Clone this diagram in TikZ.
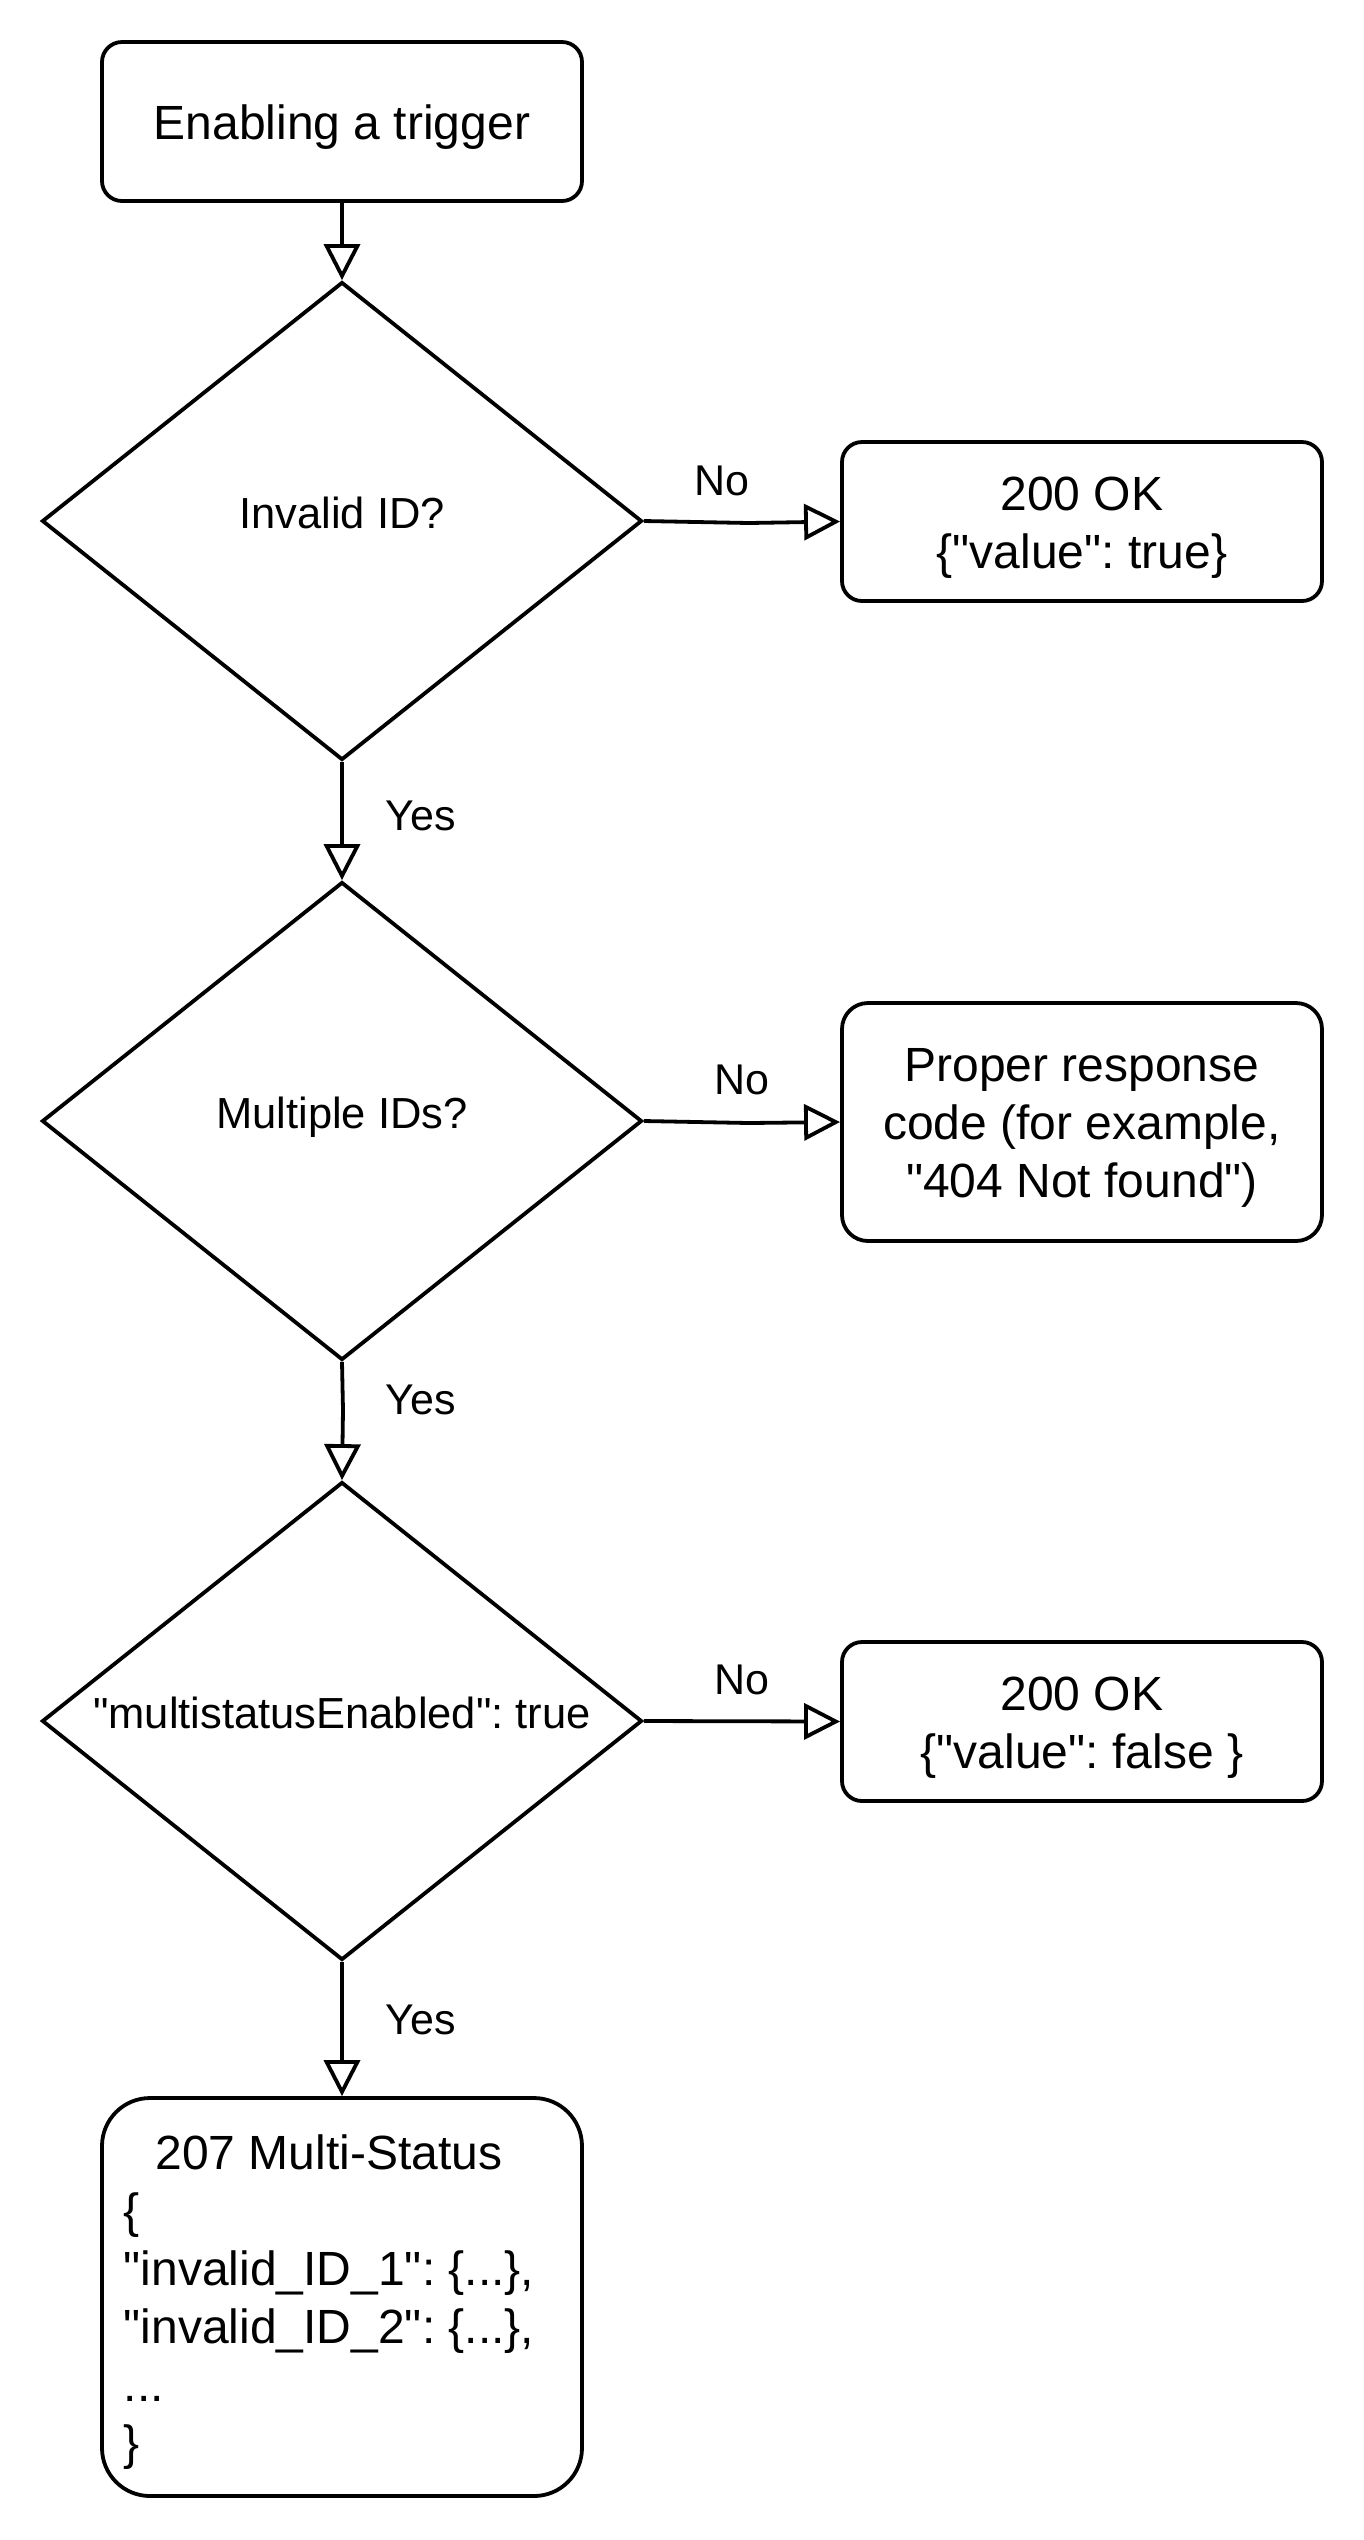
\documentclass[tikz,border=0pt]{standalone}
\usepackage{fontspec}
\setmainfont{Liberation Sans}[Ligatures=TeXOff]
\usetikzlibrary{shapes.geometric, arrows.meta}
\newlength\jsonw
\newcommand\upstrut{\rule{0pt}{22.5pt}}
\frenchspacing
\begin{document}
\begin{tikzpicture}[x=0.5pt, y=-0.5pt,
  box/.style={draw, line width=1.9pt, rounded corners=10pt, minimum width=240pt, minimum height=79.5pt, align=center, font=\fontsize{24}{29}\selectfont, inner sep=0pt},
  dec/.style={draw, diamond, line width=1.9pt, minimum width=300pt, minimum height=239pt, inner sep=0pt},
  dlabel/.style={font=\fontsize{21.75}{26}\selectfont, anchor=base, inner sep=0pt},
  elabel/.style={font=\fontsize{21.5}{26}\selectfont, inner sep=0pt},
  arr/.style={line width=1.9pt, -{Triangle[open, length=18pt, width=18pt]}},
]
\useasboundingbox (0,0) rectangle (1364,2540);
% nodes
\node[box] (start) at (342,121.5) {\upstrut Enabling a trigger};
\node[dec] (d1) at (342,521) {};
\node[dlabel, yshift=-3.5pt] (t1) at (d1.center) {Invalid ID?};
\node[box] (ok1) at (1082,521.5) {\upstrut 200 OK\\\{"value": true\}};
\node[dec] (d2) at (342,1121) {};
\node[dlabel, yshift=-3.5pt] (t2) at (d2.center) {Multiple IDs?};
\node[box, minimum height=119pt, rounded corners=13pt] (proper) at (1082,1122) {\upstrut Proper response\\code (for example,\\"404 Not found")};
\node[dec] (d3) at (342,1721) {};
\node[dlabel, yshift=-3.5pt] (t3) at (d3.center) {"multistatusEnabled": true};
\node[box] (ok2) at (1082,1721.5) {\upstrut 200 OK\\\{"value": false \}};
\node[box, minimum height=199pt, rounded corners=24pt] (multi) at (342,2297) {};
\node[font=\fontsize{24}{29}\selectfont, align=left, inner sep=0pt] (json) at (329,2302)
  {\settowidth\jsonw{"invalid\_ID\_1": \{...\},}\makebox[\jsonw][c]{207 Multi-Status}\\\{\\"invalid\_ID\_1": \{...\},\\"invalid\_ID\_2": \{...\},\\...\\\}};
% connectors
\draw[arr] (start.south) -- (d1.north);
\draw[arr] (d1.east) -- ++(105,2) -- (ok1.west);
\draw[arr] (d1.south) -- (d2.north);
\draw[arr] (d2.east) -- ++(105,2) -- (proper.west);
\draw[arr] (d2.south) -- ++(1,48) -- (d3.north);
\draw[arr] (d3.east) -- (ok2.west);
\draw[arr] (d3.south) -- (multi.north);
% edge labels
\node[elabel] (no1) at (722,481) {No};
\node[elabel] (no2) at (742,1080) {No};
\node[elabel] (no3) at (742,1680) {No};
\node[elabel] (yes1) at (421,816) {Yes};
\node[elabel] (yes2) at (421,1400) {Yes};
\node[elabel] (yes3) at (421,2020) {Yes};
\end{tikzpicture}
\end{document}
